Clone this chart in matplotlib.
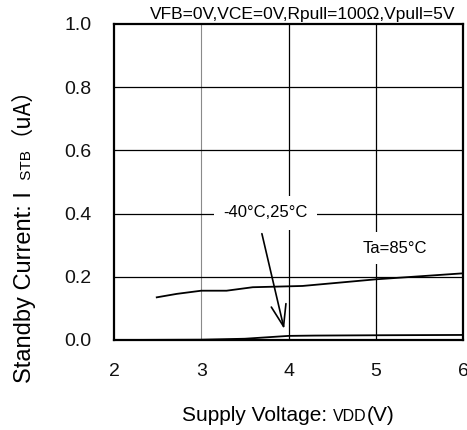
import matplotlib
matplotlib.use("Agg")
import matplotlib.pyplot as plt
from matplotlib.font_manager import FontProperties

plt.rcParams['font.family'] = ['Liberation Sans', 'DejaVu Sans']

# standby current vs supply voltage
vdd_85 = [2.49, 2.72, 3.00, 3.29, 3.59, 4.16, 5.00, 6.00]
istb_85 = [0.135, 0.146, 0.156, 0.156, 0.167, 0.171, 0.192, 0.211]

vdd_low = [2.0, 3.0, 3.5, 4.0, 4.3, 5.0, 6.0]
istb_low = [0.0, 0.001, 0.004, 0.013, 0.014, 0.015, 0.016]

xticks = [2, 3, 4, 5, 6]
yticks = [0.0, 0.2, 0.4, 0.6, 0.8, 1.0]
cond_text = "VFB=0V,VCE=0V,Rpull=100\u03a9,Vpull=5V"

fig = plt.figure(figsize=(4.67, 4.30), dpi=100)
W, H = 467, 430

ax = fig.add_axes([114 / W, 90 / H, 349 / W, 316 / H])

ax.plot(vdd_85, istb_85, color='black', lw=1.3, zorder=3)
ax.plot(vdd_low, istb_low, color='black', lw=1.3, zorder=3)

ax.set_xlim(2, 6)
ax.set_ylim(0, 1.0)
ax.set_xticks(xticks)
ax.set_yticks(yticks)
ax.set_xticklabels([str(t) for t in xticks])
ax.set_yticklabels([f"{t:.1f}" for t in yticks])
ax.tick_params(length=0, labelsize=14, colors='#111111')
ax.tick_params(axis='x', pad=16.5)
ax.tick_params(axis='y', pad=16)

for x in xticks[1:-1]:
    if x == 3:
        ax.axvline(x, color='#8a8a8a', lw=0.8, zorder=1)
    else:
        ax.axvline(x, color='black', lw=0.9, zorder=1)
for y in yticks[1:-1]:
    ax.axhline(y, color='black', lw=0.9, zorder=1)

for s in ax.spines.values():
    s.set_linewidth(1.6)
    s.set_zorder(4)

ax.text(0.977, 1.006, cond_text, transform=ax.transAxes, ha='right', va='bottom',
        fontsize=12.5)

ax.annotate("-40\u00b0C,25\u00b0C", xy=(3.95, 0.035), xytext=(3.737, 0.402),
            ha='center', va='center', fontsize=12, zorder=5,
            bbox=dict(boxstyle='square,pad=0.55', fc='white', ec='none'),
            arrowprops=dict(arrowstyle='->,head_length=1.3,head_width=0.45',
                            color='black', lw=1.2, relpos=(0.42, 0.0),
                            shrinkA=3, shrinkB=0))
ax.text(5.217, 0.291, "Ta=85\u00b0C", ha='center', va='center', fontsize=12,
        zorder=5, bbox=dict(boxstyle='square,pad=0.5', fc='white', ec='none'))

# axis labels built from pieces, the device parts set smaller
fig.canvas.draw()
rend = fig.canvas.get_renderer()

x0, y0 = 182, H - 421
for txt, size in [("Supply Voltage: ", 15), ("VDD", 11.5), ("(V)", 15)]:
    t = fig.text(x0 / W, y0 / H, txt, fontsize=size, ha='left', va='baseline')
    x0 = t.get_window_extent(rend).x1

x0, y0 = 31, H - 383
for txt, size in [("Standby Current: I ", 17), (" STB", 11)]:
    t = fig.text(x0 / W, y0 / H, txt, fontsize=size, ha='left', va='baseline',
                 rotation=90, rotation_mode='anchor')
    y0 = t.get_window_extent(rend).y1

# Agg applies the ink offset of a rotated string unrotated, which throws the
# full-width bracket (big left bearing) off the baseline; undo that shift
unit_txt, unit_prop = "（uA）", FontProperties(family='Noto Sans CJK SC', size=16)
try:
    from matplotlib.backends.backend_agg import get_hinting_flag
    ft = rend._prepare_font(unit_prop)
    ft.set_text(unit_txt, 0, flags=get_hinting_flag())
    ft.draw_glyphs_to_bitmap(antialiased=True)
    xo = ft.get_bitmap_offset()[0] / 64.0
except Exception:
    xo = 0.0
fig.text((x0 - xo) / W, (y0 + xo) / H, unit_txt, fontproperties=unit_prop,
         ha='left', va='baseline', rotation=90, rotation_mode='anchor')

fig.savefig("out.png", dpi=100)
